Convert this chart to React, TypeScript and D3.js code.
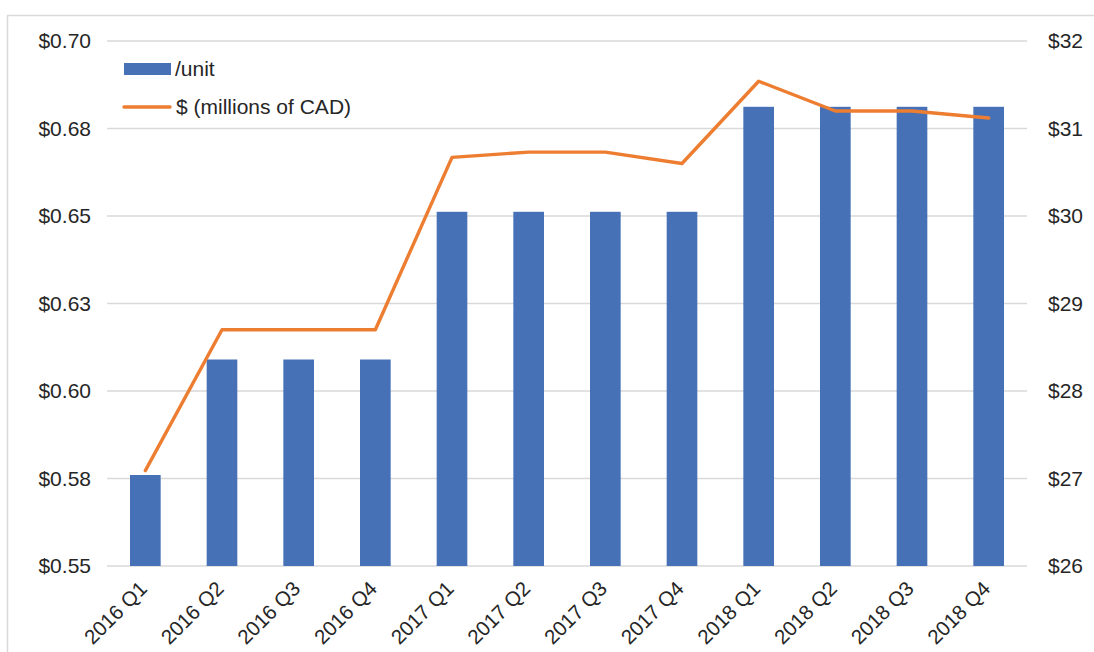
import React from 'react';
import * as d3 from 'd3';

const categories = [
  '2016 Q1', '2016 Q2', '2016 Q3', '2016 Q4',
  '2017 Q1', '2017 Q2', '2017 Q3', '2017 Q4',
  '2018 Q1', '2018 Q2', '2018 Q3', '2018 Q4',
];
// distribution per unit (left axis)
const perUnit = [0.576, 0.609, 0.609, 0.609, 0.6512, 0.6512, 0.6512, 0.6512, 0.6812, 0.6812, 0.6812, 0.6812];
// total distributions, millions of CAD (right axis)
const millions = [27.09, 28.7, 28.7, 28.7, 30.67, 30.73, 30.73, 30.6, 31.54, 31.2, 31.2, 31.12];
const leftTicks = [0.55, 0.575, 0.6, 0.625, 0.65, 0.675, 0.7];
const rightTicks = [26, 27, 28, 29, 30, 31, 32];

const W = 1094;
const H = 652;
const BLUE = '#4771B7';
const ORANGE = '#ED7D31';
const FONT = '"Liberation Sans", Arial, Helvetica, sans-serif';
const TXT = '#262626';

export default function App() {
  const left = 107, right = 1027, top = 41, bottom = 566;

  const x = d3.scaleBand().domain(categories).range([left, right]).paddingInner(0.6).paddingOuter(0.3);
  const yL = d3.scaleLinear().domain([0.55, 0.7]).range([bottom, top]);
  const yR = d3.scaleLinear().domain([26, 32]).range([bottom, top]);

  const line = d3.line<number>()
    .x((_, i) => x(categories[i])! + x.bandwidth() / 2)
    .y(d => yR(d));

  const fmtL = (v: number) => '$' + (Math.round(v * 100 + 1e-6) / 100).toFixed(2);

  return (
    <>
      <style>{`body{margin:0}`}</style>
      <svg width={W} height={H} style={{ display: 'block', fontFamily: FONT }}>
        <rect x={0} y={0} width={W} height={H} fill="#fff" />
        {/* outer frame */}
        <line x1={7} x2={W} y1={15.5} y2={15.5} stroke="#d9d9d9" strokeWidth={1.5} />
        <line x1={7.5} x2={7.5} y1={15} y2={H} stroke="#d9d9d9" strokeWidth={1.5} />

        {/* gridlines */}
        {leftTicks.map(t => (
          <line key={t} x1={left} x2={right} y1={yL(t)} y2={yL(t)} stroke="#d9d9d9" strokeWidth={1.5} />
        ))}

        {/* bars */}
        {perUnit.map((v, i) => (
          <rect key={categories[i]} x={x(categories[i])} y={yL(v)} width={x.bandwidth()}
            height={yL(0.55) - yL(v)} fill={BLUE} />
        ))}

        {/* line */}
        <path d={line(millions) || ''} fill="none" stroke={ORANGE} strokeWidth={3.4}
          strokeLinejoin="round" strokeLinecap="round" />

        {/* left axis labels */}
        {leftTicks.map(t => (
          <text key={t} x={91} y={yL(t)} dy="0.35em" textAnchor="end" fontSize={21} fill={TXT}>{fmtL(t)}</text>
        ))}

        {/* right axis labels */}
        {rightTicks.map(t => (
          <text key={t} x={1048} y={yR(t)} dy="0.35em" textAnchor="start" fontSize={21} fill={TXT}>{'$' + t}</text>
        ))}

        {/* x labels */}
        {categories.map(c => {
          const cx = x(c)! + x.bandwidth() / 2 + 3;
          const cy = 590;
          return (
            <text key={c} transform={`translate(${cx},${cy}) rotate(-45)`} textAnchor="end"
              fontSize={20.5} fill={TXT}>{c}</text>
          );
        })}

        {/* legend */}
        <rect x={124} y={63} width={47} height={12} fill={BLUE} />
        <text x={175} y={69} dy="0.35em" fontSize={21} fill={TXT}>/unit</text>
        <line x1={124} x2={170} y1={107} y2={107} stroke={ORANGE} strokeWidth={3.4} strokeLinecap="round" />
        <text x={176} y={107} dy="0.35em" fontSize={21} fill={TXT}>$ (millions of CAD)</text>
      </svg>
    </>
  );
}
